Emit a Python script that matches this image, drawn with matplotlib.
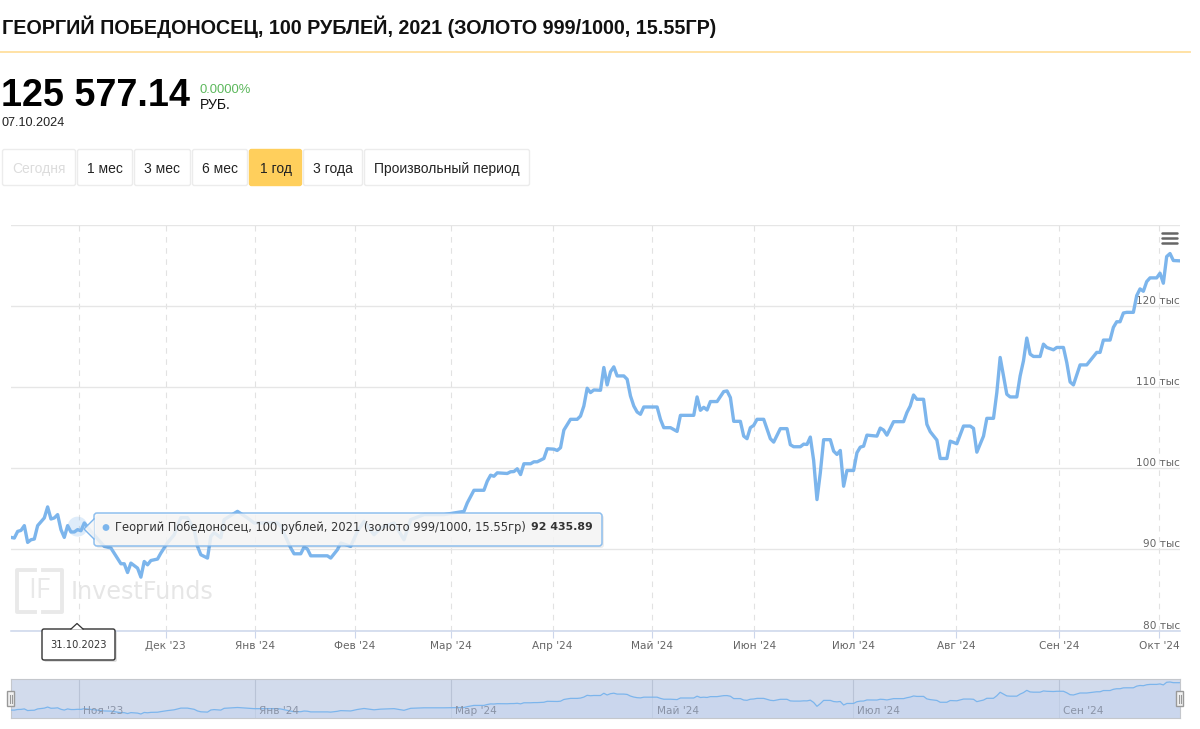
#!/usr/bin/env python3
# -*- coding: utf-8 -*-
import matplotlib
matplotlib.use('Agg')
import matplotlib.pyplot as plt
from matplotlib.patches import FancyBboxPatch, Rectangle, Polygon, Circle

# days counted on the chart's own (ordinal) axis, prices in thousand rubles
days = [0, 1, 2, 3, 4, 5, 6, 7, 8, 10, 11, 12, 13, 14, 15, 16, 17, 18, 19, 20, 21, 22, 23, 24,
        28, 30, 33, 34, 35, 36, 38, 39, 40, 41, 42, 44, 45, 47, 49, 51, 53, 55, 56, 57, 59, 60,
        61, 63, 64, 68, 71, 73, 80, 81, 84, 85, 87, 88, 89, 90, 95, 96, 98, 99, 102, 104, 106,
        109, 111, 115, 118, 120, 124, 130, 136, 137, 139, 142, 143, 144, 145, 146, 149, 150,
        151, 152, 153, 154, 156, 157, 158, 160, 161, 163, 164, 165, 166, 168, 170, 171, 172,
        173, 174, 175, 177, 178, 179, 180, 181, 182, 184, 185, 186, 187, 188, 189, 190, 194,
        195, 196, 198, 200, 201, 205, 206, 207, 208, 209, 210, 212, 214, 215, 216, 217, 219,
        220, 221, 222, 223, 224, 226, 228, 229, 231, 233, 234, 235, 237, 238, 239, 240, 241,
        242, 243, 244, 246, 247, 248, 249, 250, 251, 253, 254, 255, 256, 257, 260, 261, 262,
        263, 265, 268, 269, 270, 271, 272, 274, 275, 276, 278, 279, 281, 282, 284, 286, 288,
        289, 290, 292, 293, 295, 296, 297, 299, 300, 302, 303, 304, 305, 306, 307, 309, 310,
        311, 313, 314, 316, 317, 318, 319, 321, 323, 326, 327, 328, 330, 331, 332, 333, 334,
        335, 337, 338, 339, 340, 341, 342, 344, 345, 346, 347, 348, 349, 351]
prices = [91.48, 91.40, 92.22, 92.34, 92.93, 90.86, 91.19, 91.28, 92.93, 93.88, 95.24, 93.75,
          93.88, 94.29, 92.43, 91.48, 92.93, 92.15, 92.15, 92.44, 92.30, 93.26, 92.76, 92.22,
          90.37, 90.17, 88.23, 88.23, 87.15, 88.31, 87.69, 86.58, 88.51, 88.10, 88.63, 88.81,
          89.55, 90.82, 91.81, 93.91, 93.91, 92.43, 90.37, 89.34, 88.93, 91.60, 92.06, 91.44,
          93.67, 94.69, 93.88, 93.26, 93.26, 92.84, 90.17, 89.46, 89.46, 90.29, 90.04, 89.21,
          89.21, 88.93, 89.96, 90.79, 90.37, 92.22, 93.46, 91.81, 92.64, 93.26, 91.19, 93.67,
          94.29, 94.29, 94.69, 95.73, 97.29, 97.29, 98.41, 99.15, 99.02, 99.44, 99.36, 99.57,
          99.60, 99.94, 99.23, 100.56, 100.56, 100.80, 100.80, 101.21, 102.41, 102.36, 102.20,
          102.54, 104.71, 106.04, 106.04, 106.44, 107.68, 109.87, 109.34, 109.66, 109.62,
          112.43, 110.28, 111.89, 112.51, 111.39, 111.39, 110.98, 108.92, 107.68, 106.94,
          106.66, 107.56, 107.56, 106.04, 105.01, 105.01, 104.55, 106.53, 106.53, 108.80,
          107.15, 107.52, 107.19, 108.23, 108.23, 109.46, 109.54, 108.72, 105.79, 105.79,
          103.97, 103.65, 105.01, 105.29, 106.04, 106.04, 103.65, 103.23, 104.89, 104.89,
          102.91, 102.66, 102.66, 102.98, 102.94, 103.85, 100.97, 96.14, 99.44, 103.53,
          103.53, 102.12, 101.71, 102.20, 97.79, 99.73, 99.73, 101.92, 102.61, 102.73, 104.09,
          103.97, 104.96, 104.71, 104.09, 105.75, 105.75, 106.87, 107.68, 109.04, 108.51,
          108.51, 105.42, 104.52, 103.48, 101.21, 101.21, 103.35, 103.03, 105.21, 105.21,
          104.92, 101.99, 103.97, 106.16, 106.16, 109.34, 113.67, 109.13, 108.80, 108.80,
          111.39, 113.25, 116.06, 114.08, 113.79, 113.79, 115.31, 114.90, 114.61, 114.90,
          114.90, 113.05, 110.65, 110.28, 112.75, 112.75, 114.29, 114.29, 115.81, 115.81,
          117.38, 118.07, 118.07, 119.15, 119.23, 119.23, 121.29, 122.12, 121.83, 123.02,
          123.48, 123.48, 124.06, 122.82, 126.11, 126.48, 125.62, 125.58]

month_days = [20.5, 46.5, 73.2, 103.2, 132, 162.6, 192.6, 223.2, 252.9, 283.8, 314.7, 344.7]
month_labels = ['', "Дек '23", "Янв '24", "Фев '24", "Мар '24", "Апр '24", "Май '24",
                "Июн '24", "Июл '24", "Авг '24", "Сен '24", "Окт '24"]
y_ticks = [80, 90, 100, 110, 120, 130]
y_labels = ['80 тыс', '90 тыс', '100 тыс', '110 тыс', '120 тыс', '']
nav_days = [20.5, 73.2, 132, 192.6, 252.9, 314.7]
nav_labels = ["Ноя '23", "Янв '24", "Мар '24", "Май '24", "Июл '24", "Сен '24"]

buttons = ['Сегодня', '1 мес', '3 мес', '6 мес', '1 год', '3 года', 'Произвольный период']
button_edges = [(2, 76), (77, 133), (134, 191), (192, 248), (249, 302), (303, 363), (364, 530)]

hover_day = 20
hover_price = 92.43589

W, H = 1200, 729
LINE = '#7cb5ec'
CHART_FONT = ['DejaVu Sans']
PAGE_FONT = ['Liberation Sans', 'DejaVu Sans']


def box(px_left, px_top, px_right, px_bottom):
    return [px_left / W, 1 - px_bottom / H, (px_right - px_left) / W, (px_bottom - px_top) / H]


fig = plt.figure(figsize=(12, 7.29), dpi=100, facecolor='white')

# main chart
ax = fig.add_axes(box(11, 225, 1180, 630.5))
ax.plot(days, prices, color=LINE, lw=2.4, solid_joinstyle='round', zorder=3)
ax.set_xlim(0, 351)
ax.set_ylim(80, 130)
ax.set_xticks(month_days)
ax.set_xticklabels(month_labels, fontsize=7.6, color='#666666', family=CHART_FONT)
ax.yaxis.tick_right()
ax.set_yticks(y_ticks)
ax.set_yticklabels(y_labels, fontsize=7.6, color='#666666', family=CHART_FONT, ha='right', va='bottom')
ax.tick_params(axis='y', length=0, pad=0)
ax.tick_params(axis='x', length=5, width=0.8, color='#ccd6eb', pad=2.5)
ax.grid(axis='y', color='#e6e6e6', lw=1)
ax.grid(axis='x', color='#e2e2e2', lw=0.8, ls=(0, (5, 5)))
ax.set_axisbelow(True)
for side in ['top', 'left', 'right']:
    ax.spines[side].set_visible(False)
ax.spines['bottom'].set_color('#ccd6eb')
ax.spines['bottom'].set_linewidth(1.1)

# navigator
nav = fig.add_axes(box(11, 679, 1180, 718))
nav.set_facecolor('#d2dbec')
nav.plot(days, prices, color=LINE, lw=0.9, zorder=3)
nav.fill_between(days, prices, 0, color='#c6d4ee', alpha=0.6, lw=0, zorder=2)
nav.set_xlim(0, 351)
nav.set_ylim(81.6, 130.2)
nav.set_xticks(nav_days)
nav.set_xticklabels([])
nav.set_yticks([])
nav.tick_params(axis='x', length=0)
nav.grid(axis='x', color='#b9c3d6', lw=0.8)
nav.set_axisbelow(True)
for side in nav.spines:
    nav.spines[side].set_color('#c4c7cc')
for d, lab in zip(nav_days, nav_labels):
    nav.annotate(lab, (d, 0), xycoords=nav.get_xaxis_transform(), xytext=(3, 3),
                 textcoords='offset points', fontsize=7.6, color='#8a93a6',
                 family=CHART_FONT, zorder=4)

# page layer, in screen pixels
page = fig.add_axes([0, 0, 1, 1], zorder=5)
page.set_xlim(0, W)
page.set_ylim(H, 0)
page.axis('off')
page.patch.set_alpha(0)

page.text(2, 34, 'ГЕОРГИЙ ПОБЕДОНОСЕЦ, 100 РУБЛЕЙ, 2021 (ЗОЛОТО 999/1000, 15.55ГР)',
          fontsize=14.2, fontweight='bold', family=PAGE_FONT, color='#111111', va='baseline')
page.plot([0, 1190], [51.5, 51.5], color='#ffdf9e', lw=1.3)
page.text(1, 105.5, '125 577.14', fontsize=27.2, fontweight='bold', family=PAGE_FONT,
          color='black', va='baseline')
page.text(199.5, 93, '0.0000%', fontsize=9.4, family=PAGE_FONT, color='#5cb85c', va='baseline')
page.text(199.5, 108.5, 'РУБ.', fontsize=10.1, family=PAGE_FONT, color='#111111', va='baseline')
page.text(1, 125.5, '07.10.2024', fontsize=9.1, family=PAGE_FONT, color='#222222', va='baseline')

for lab, (left, right) in zip(buttons, button_edges):
    active = lab == '1 год'
    page.add_patch(FancyBboxPatch((left + 0.5, 149.5), right - left - 1, 36,
                                  boxstyle='round,pad=0,rounding_size=2',
                                  fc='#ffcf5c' if active else 'white',
                                  ec='#ffcf5c' if active else '#ececec', lw=1))
    page.text((left + right) / 2, 173, lab, fontsize=10, family=PAGE_FONT, ha='center', va='baseline',
              color='#dcdcdc' if lab == 'Сегодня' else '#222222')

# watermark
wm = '#e9e9e9'
page.plot([35, 16.5, 16.5, 35], [570, 570, 612, 612], color=wm, lw=2.8)
page.plot([43, 61.5, 61.5, 43], [570, 570, 612, 612], color=wm, lw=2.8)
page.text(39, 591, 'IF', fontsize=20, color=wm, ha='center', va='center', family=['Open Sans'])
page.text(71, 592, 'InvestFunds', fontsize=17.2, color='#e6e6e6', va='center', family=CHART_FONT)

# hover marker, tooltip and date flag
hover_px = 11 + hover_day / 351 * 1169
hover_py = 630.5 - (hover_price - 80) / 50 * 405.5
page.add_patch(Circle((hover_px, hover_py - 3), 10, fc=LINE, alpha=0.25, lw=0))

page.add_patch(FancyBboxPatch((96, 515), 508, 33, boxstyle='round,pad=0,rounding_size=3',
                              fc='black', alpha=0.07, lw=0))
page.add_patch(FancyBboxPatch((94, 513), 508, 33, boxstyle='round,pad=0,rounding_size=3',
                              fc='#f7f7f7', alpha=0.85, ec=LINE, lw=1.1))
page.add_patch(Polygon([(94.5, 519), (84, 529), (94.5, 539)], closed=True, fc='#f7f7f7',
                       ec='none', alpha=0.9))
page.plot([94, 84, 94], [519, 529, 539], color=LINE, lw=1)
page.add_patch(Circle((106, 527.5), 3.4, fc=LINE, lw=0))
page.text(115, 527.5, 'Георгий Победоносец, 100 рублей, 2021 (золото 999/1000, 15.55гр)',
          fontsize=8.3, family=CHART_FONT, color='#333333', va='center')
page.text(593, 527.5, f'{hover_price * 1000:,.2f}'.replace(',', ' '), fontsize=7.9, fontweight='bold',
          family=CHART_FONT, color='#333333', va='center', ha='right')

page.add_patch(FancyBboxPatch((44, 631), 73, 31, boxstyle='round,pad=0,rounding_size=2',
                              fc='black', alpha=0.12, lw=0))
page.add_patch(FancyBboxPatch((42, 629), 73, 31, boxstyle='round,pad=0,rounding_size=2',
                              fc='white', ec='#333333', lw=1))
page.add_patch(Polygon([(71, 629.6), (77, 623.5), (83, 629.6)], closed=True, fc='white', ec='none'))
page.plot([71, 77, 83], [629, 623.5, 629], color='#333333', lw=0.9)
page.text(78, 645, '31.10.2023', fontsize=7.1, family=CHART_FONT, color='#333333',
          ha='center', va='center')

# export menu icon and navigator handles
for y in [232.5, 237.5, 242.5]:
    page.plot([1161.5, 1177], [y, y], color='#666666', lw=1.8, solid_capstyle='round')
for x in [11, 1180]:
    page.add_patch(Rectangle((x - 4, 691), 7, 15, fc='#f2f2f2', ec='#999999', lw=1))
    page.plot([x - 1.5, x - 1.5], [694.5, 702.5], color='#999999', lw=0.8)
    page.plot([x + 0.5, x + 0.5], [694.5, 702.5], color='#999999', lw=0.8)

fig.savefig('out.png', dpi=100)
